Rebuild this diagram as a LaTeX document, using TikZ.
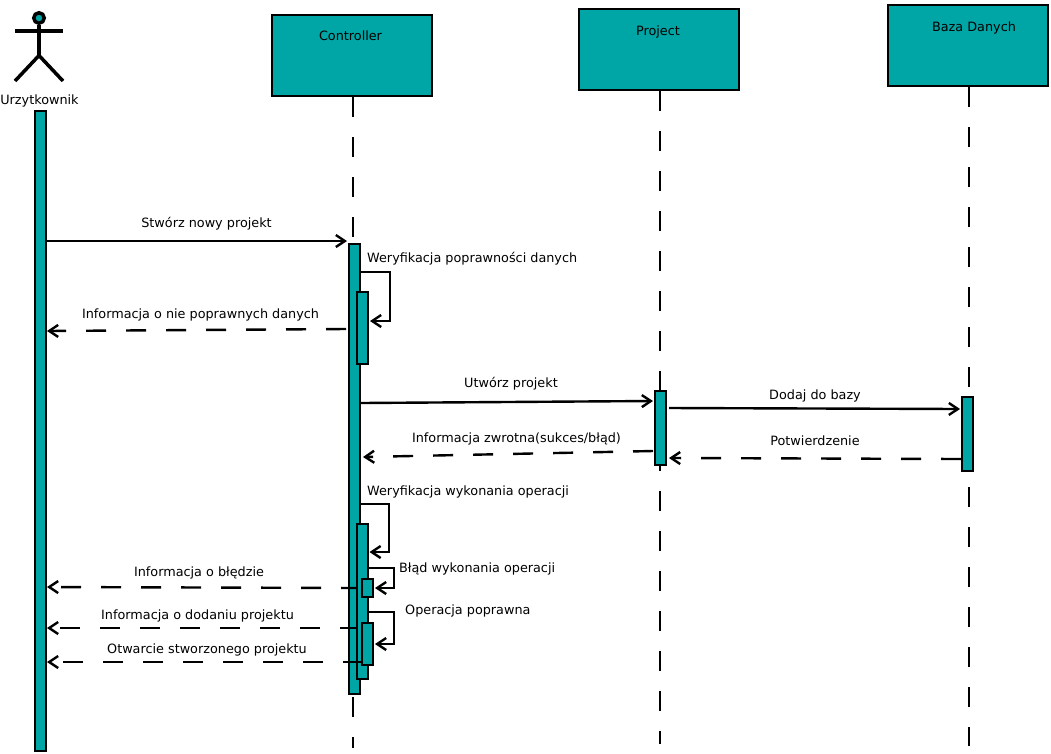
\documentclass[tikz,border=0pt]{standalone}
\usepackage{fontspec}
\setmainfont{DejaVu Sans}
\usetikzlibrary{arrows.meta}
\definecolor{teal1}{HTML}{00A5A5}
\tikzset{
  x=1pt,y=-1pt,
  box/.style={draw=black,line width=2.6pt,fill=teal1,inner sep=0pt,minimum width=160pt,minimum height=81pt},
  bar/.style={draw=black,line width=2.6pt,fill=teal1,inner sep=0pt},
  lbl/.style={inner sep=0pt,font=\fontsize{12.8}{14}\selectfont,text=black},
  life/.style={line width=2.5pt,dash pattern=on 20pt off 20pt},
  msg/.style={line width=2.4pt,-{Straight Barb[length=9pt,width=12pt,line width=2.4pt]}},
  ret/.style={msg,dash pattern=on 20pt off 20pt},
  act/.style={line width=3.5pt}
}
\newcommand{\barnode}[5]{\node[bar,minimum width=#3-#2,minimum height=#5-#4] (#1) at ({(#2+#3)/2},{(#4+#5)/2}) {};}
\begin{document}
\begin{tikzpicture}
\useasboundingbox (0,0) rectangle (1051,753);
\coordinate (cEnd) at (353,748); \coordinate (pEnd) at (660,744); \coordinate (dEnd) at (969,746);
\node[box] (ctrl) at (352,55.5) {};
\node[box] (proj) at (659,49.5) {};
\node[box] (db) at (968,45.5) {};
\draw[life] (ctrl.south -| cEnd) -- (cEnd);
\draw[life] (proj.south -| pEnd) -- (pEnd);
\draw[life] (db.south -| dEnd) -- (dEnd);
\node[lbl,anchor=base] (ctrlT) at (350.5,40) {Controller};
\node[lbl,anchor=base] (projT) at (658,35) {Project};
\node[lbl,anchor=base] (dbT) at (974,31) {Baza Danych};
% actor
\node[draw=black,line width=3.5pt,fill=teal1,circle,inner sep=0pt,minimum size=10.5pt] (head) at (39,18) {};
\coordinate (hip) at (39,55.5); \coordinate (armL) at (15,31); \coordinate (armR) at (63,31);
\coordinate (legL) at (15,81); \coordinate (legR) at (63,81);
\draw[act] (head) -- (hip);
\draw[act] (armL) -- (armR);
\draw[act] (legL) -- (hip) -- (legR);
\node[lbl,anchor=base] (actorT) at (39.5,104) {Urzytkownik};
% bars
\barnode{aBar}{35}{46}{111}{751}
\barnode{cBar}{349}{360}{244}{694}
\barnode{s1}{357}{368}{292}{364}
\coordinate (r1a) at (361,588); \coordinate (r1b) at (47,587);
\draw[ret] (r1a) -- (r1b);
\node[lbl,anchor=base] (r1T) at (199,576) {Informacja o błędzie};
\coordinate (r2a) at (360,628); \coordinate (r2b) at (47,628);
\draw[ret] (r2a) -- (r2b);
\node[lbl,anchor=base] (r2T) at (197.5,619) {Informacja o dodaniu projektu};
\barnode{s2}{357}{368}{524}{679}
\barnode{pBar}{655}{666}{391}{465}
\barnode{dBar}{962}{973}{397}{471}
% messages
\coordinate (m1a) at (47,241); \coordinate (m1b) at (347,241);
\draw[msg] (m1a) -- (m1b);
\node[lbl,anchor=base] (m1T) at (206.5,227) {Stwórz nowy projekt};
\coordinate (v1a) at (361,272); \coordinate (v1b) at (390,272); \coordinate (v1c) at (390,321); \coordinate (v1d) at (370,321);
\draw[msg] (v1a) -- (v1b) -- (v1c) -- (v1d);
\node[lbl,anchor=base west] (v1T) at (367,262) {Weryfikacja poprawności danych};
\coordinate (m2a) at (346,329); \coordinate (m2b) at (47,331);
\draw[ret] (m2a) -- (m2b);
\node[lbl,anchor=base] (m2T) at (200.5,318) {Informacja o nie poprawnych danych};
\coordinate (m3a) at (361,403); \coordinate (m3b) at (653,401);
\draw[msg] (m3a) -- (m3b);
\node[lbl,anchor=base] (m3T) at (511,387) {Utwórz projekt};
\coordinate (m4a) at (669,408); \coordinate (m4b) at (960,409);
\draw[msg] (m4a) -- (m4b);
\node[lbl,anchor=base] (m4T) at (815,399) {Dodaj do bazy};
\coordinate (m5a) at (653,451); \coordinate (m5b) at (363,457);
\draw[ret] (m5a) -- (m5b);
\node[lbl,anchor=base] (m5T) at (516.5,442) {Informacja zwrotna(sukces/błąd)};
\coordinate (m6a) at (961,459); \coordinate (m6b) at (669,458);
\draw[ret] (m6a) -- (m6b);
\node[lbl,anchor=base] (m6T) at (815,445) {Potwierdzenie};
\coordinate (v2a) at (361,504); \coordinate (v2b) at (389,504); \coordinate (v2c) at (389,552); \coordinate (v2d) at (369.5,552);
\draw[msg] (v2a) -- (v2b) -- (v2c) -- (v2d);
\node[lbl,anchor=base west] (v2T) at (367,495) {Weryfikacja wykonania operacji};
\barnode{s3}{362}{373}{579}{597}
\coordinate (r3a) at (363,662); \coordinate (r3b) at (47,662);
\draw[ret] (r3a) -- (r3b);
\node[lbl,anchor=base] (r3T) at (207,653) {Otwarcie stworzonego projektu};
\barnode{s4}{362}{373}{623}{665}
\coordinate (v3a) at (369,568); \coordinate (v3b) at (394,568); \coordinate (v3c) at (394,588); \coordinate (v3d) at (375,588);
\draw[msg] (v3a) -- (v3b) -- (v3c) -- (v3d);
\node[lbl,anchor=base west] (v3T) at (399,572) {Błąd wykonania operacji};
\coordinate (v4a) at (369,612); \coordinate (v4b) at (394,612); \coordinate (v4c) at (394,644); \coordinate (v4d) at (375,644);
\draw[msg] (v4a) -- (v4b) -- (v4c) -- (v4d);
\node[lbl,anchor=base west] (v4T) at (405,614) {Operacja poprawna};
\end{tikzpicture}
\end{document}
